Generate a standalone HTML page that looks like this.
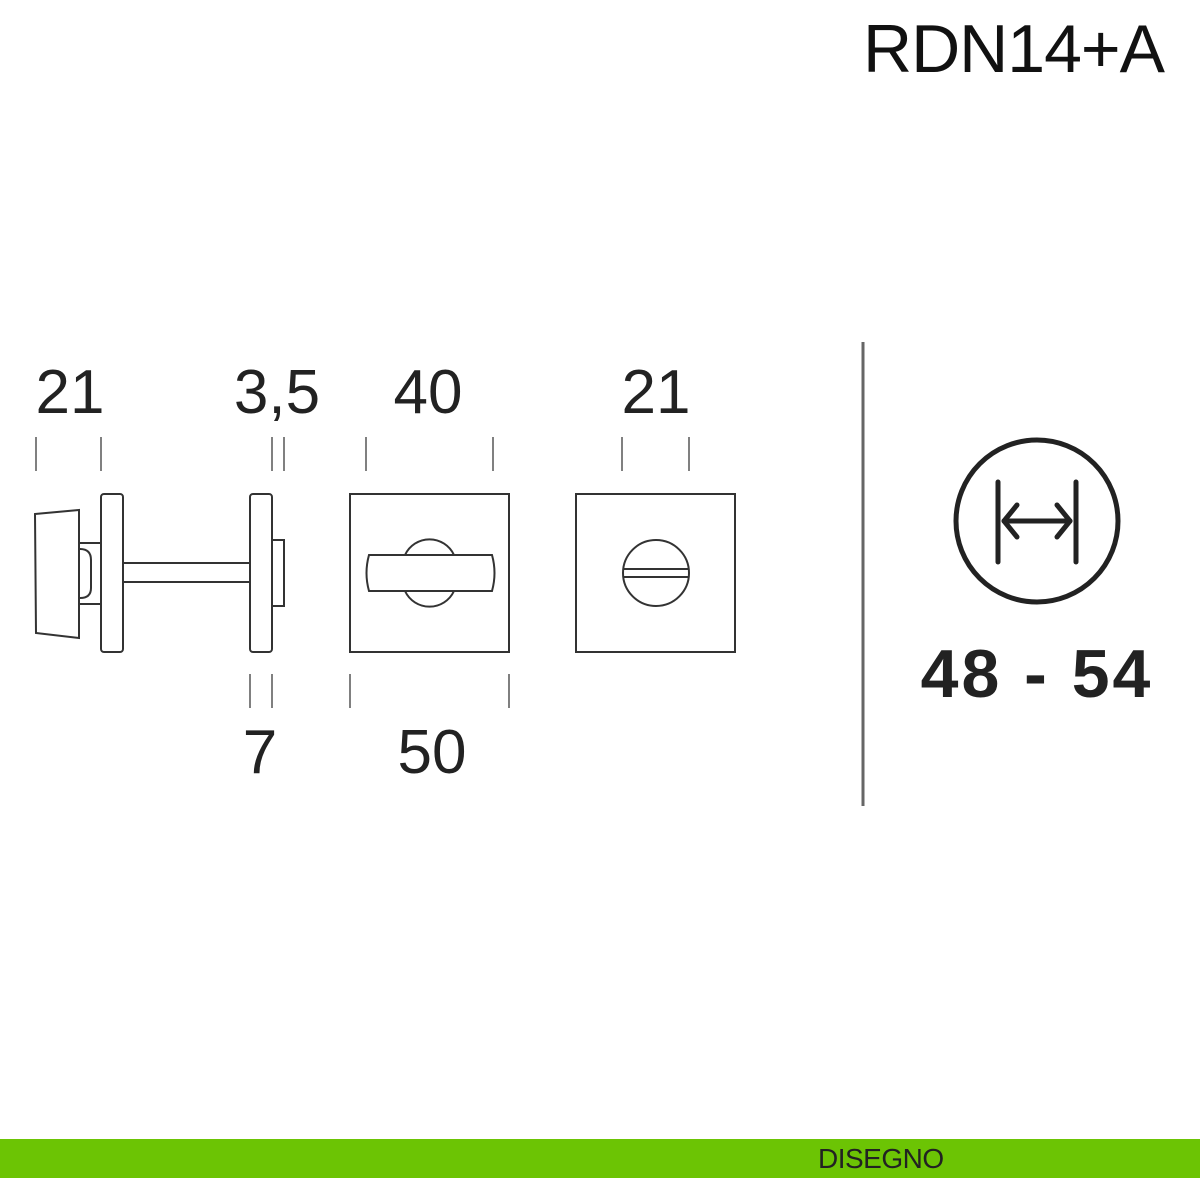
<!DOCTYPE html>
<html><head><meta charset="utf-8"><style>
html,body{margin:0;padding:0;background:#fff;}
svg{display:block;}
</style></head><body>
<svg width="1200" height="1200" viewBox="0 0 1200 1200" xmlns="http://www.w3.org/2000/svg">
<rect width="1200" height="1200" fill="#fff"/>
<text x="1164" y="72" text-anchor="end" font-family="Liberation Sans, sans-serif" font-size="68" fill="#111" letter-spacing="-1">RDN14+A</text>
<g stroke="#333" stroke-width="2" fill="none">
<polygon points="35,514 79,510 79,638 36,633"/>
<path d="M79,543 H101 V604 H79"/>
<path d="M80,549 Q91,549 91,560 V588 Q91,598 80,598"/>
<rect x="101" y="494" width="22" height="158" rx="3"/>
<rect x="123" y="563" width="127" height="19"/>
<rect x="250" y="494" width="22" height="158" rx="3"/>
<path d="M272,540 H284 V606 H272"/>
<rect x="350" y="494" width="159" height="158"/>
<path d="M405,555 A27,27 0 0 1 454,555 M405,591 A27,27 0 0 0 454,591"/>
<path d="M369,555 H492 Q497,573 492,591 H369 Q364,573 369,555 Z"/>
<rect x="576" y="494" width="159" height="158"/>
<circle cx="656" cy="573" r="33"/>
<line x1="623" y1="569" x2="689" y2="569"/>
<line x1="623" y1="577" x2="689" y2="577"/>
</g>
<g stroke="#555" stroke-width="1.5">
<line x1="36" y1="437" x2="36" y2="471"/><line x1="101" y1="437" x2="101" y2="471"/>
<line x1="272" y1="437" x2="272" y2="471"/><line x1="284" y1="437" x2="284" y2="471"/>
<line x1="366" y1="437" x2="366" y2="471"/><line x1="493" y1="437" x2="493" y2="471"/>
<line x1="622" y1="437" x2="622" y2="471"/><line x1="689" y1="437" x2="689" y2="471"/>
<line x1="250" y1="674" x2="250" y2="708"/><line x1="272" y1="674" x2="272" y2="708"/>
<line x1="350" y1="674" x2="350" y2="708"/><line x1="509" y1="674" x2="509" y2="708"/>
</g>
<g font-family="Liberation Sans, sans-serif" font-size="62" fill="#222" text-anchor="middle">
<text x="70" y="413">21</text>
<text x="277" y="413">3,5</text>
<text x="428" y="413">40</text>
<text x="656" y="413">21</text>
<text x="260" y="773">7</text>
<text x="432" y="773">50</text>
</g>
<line x1="863" y1="342" x2="863" y2="806" stroke="#666" stroke-width="3"/>
<g stroke="#222" stroke-width="5" fill="none" stroke-linecap="round" stroke-linejoin="round">
<circle cx="1037" cy="521" r="81"/>
<line x1="998" y1="482" x2="998" y2="562"/>
<line x1="1076" y1="482" x2="1076" y2="562"/>
<line x1="1004" y1="521" x2="1070" y2="521"/>
<path d="M1017,505 L1004,521 L1017,537"/>
<path d="M1057,505 L1070,521 L1057,537"/>
</g>
<text x="1037" y="697" text-anchor="middle" font-family="Liberation Sans, sans-serif" font-weight="bold" font-size="68" fill="#222" letter-spacing="3">48 - 54</text>
<rect x="0" y="1139" width="1200" height="39" fill="#6cc404"/>
<text x="818" y="1168" font-family="Liberation Sans, sans-serif" font-size="28" fill="#222" letter-spacing="-0.5">DISEGNO</text>
</svg>
</body></html>
